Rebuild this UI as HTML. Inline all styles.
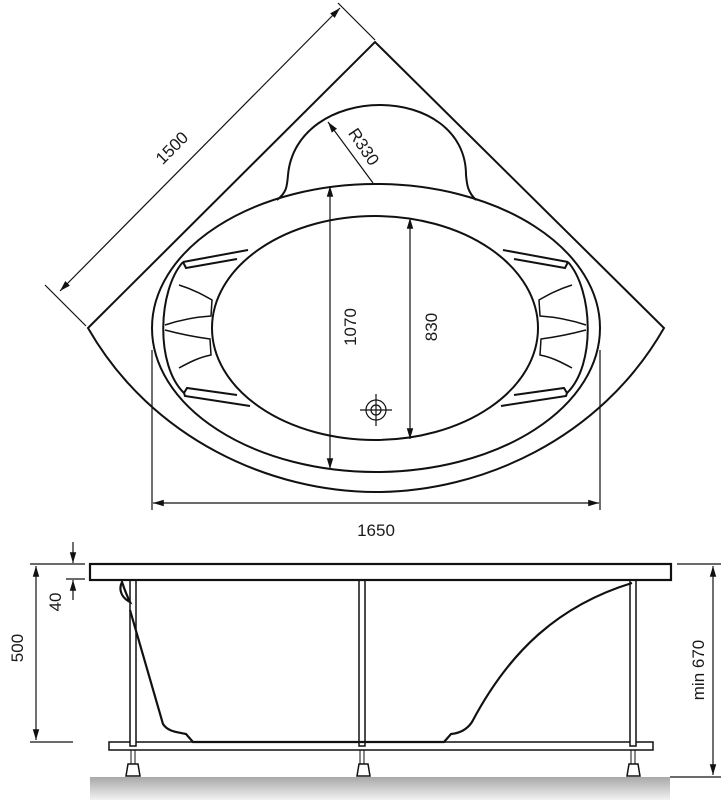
<!DOCTYPE html>
<html><head><meta charset="utf-8"><style>
html,body{margin:0;padding:0;background:#fff;}
svg{display:block;}
text{font-family:"Liberation Sans",sans-serif;font-size:17px;fill:#1a1a1a;}
</style></head><body>
<svg width="721" height="800" viewBox="0 0 721 800" xmlns="http://www.w3.org/2000/svg">
<defs>
<marker id="a" viewBox="0 0 10 10" refX="10" refY="5" markerWidth="9" markerHeight="9" orient="auto-start-reverse"><path d="M0,2 L10,5 L0,8 z" fill="#111"/></marker>
<linearGradient id="fl" x1="0" y1="0" x2="0" y2="1"><stop offset="0" stop-color="#a8a8a8"/><stop offset="1" stop-color="#f2f2f2"/></linearGradient>
</defs>
<g fill="none" stroke="#111" stroke-width="2">
<path d="M88,328 L375,42 L664,328 C600,440 480,492 376,492 C272,492 152,440 88,328 Z"/>
<!-- headrest -->
<path d="M277,200 C287,192 287,186 288,175 C292,130 335,105 380,105 C425,105 466,130 466,175 C467,186 468,192 476,200"/>
<ellipse cx="376" cy="328" rx="224" ry="144"/>
<ellipse cx="375" cy="328" rx="163" ry="112"/>
<path d="M183,262 C158,290 155,365 184,393"/>
<path d="M568,262 C593,290 596,365 567,393"/>
<path d="M183,262 L248,250 M183,262 L186,268 L237,259 M184,393 L187,388 L237,395 M184,393 L185,396 L250,406"/>
<path d="M568,262 L503,250 M568,262 L565,268 L514,259 M567,393 L564,388 L514,395 M567,393 L566,396 L501,406"/>
<path d="M179,285 C195,290 205,296 212,300 L211,316 C195,317 180,320 165,325 M165,330 C180,334 195,337 210,339 L211,355 C200,357 190,362 179,368" stroke-width="1.5"/>
<path d="M572,285 C556,290 546,296 539,300 L540,316 C556,317 571,320 586,325 M586,330 C571,334 556,337 541,339 L540,355 C551,357 561,362 572,368" stroke-width="1.5"/>
</g>
<g stroke="#111" stroke-width="1.2" fill="none">
<line x1="86" y1="326" x2="45" y2="285"/>
<line x1="375" y1="40" x2="338" y2="3"/>
<line x1="60" y1="291" x2="340" y2="8" marker-start="url(#a)" marker-end="url(#a)"/>
<line x1="152" y1="350" x2="152" y2="510"/>
<line x1="600" y1="350" x2="600" y2="510"/>
<line x1="153" y1="503" x2="599" y2="503" marker-start="url(#a)" marker-end="url(#a)"/>
<line x1="330" y1="186" x2="330" y2="469" marker-start="url(#a)" marker-end="url(#a)"/>
<line x1="410" y1="218" x2="410" y2="439" marker-start="url(#a)" marker-end="url(#a)"/>
<line x1="373" y1="183" x2="328" y2="122" marker-end="url(#a)"/>
<circle cx="376" cy="410" r="10"/><circle cx="376" cy="410" r="5"/>
<line x1="360" y1="410" x2="392" y2="410"/><line x1="376" y1="394" x2="376" y2="426"/>
</g>
<text transform="translate(176,152) rotate(-45)" text-anchor="middle">1500</text>
<text x="376" y="536" text-anchor="middle">1650</text>
<text transform="translate(356,327) rotate(-90)" text-anchor="middle">1070</text>
<text transform="translate(437,327) rotate(-90)" text-anchor="middle">830</text>
<text transform="translate(359,150) rotate(56)" text-anchor="middle">R330</text>
<rect x="90" y="777" width="580" height="23" fill="url(#fl)"/>
<g fill="none" stroke="#111" stroke-width="1.5">
<rect x="109" y="742" width="544" height="8" fill="#fff"/>
<rect x="130" y="580" width="6" height="166" fill="#fff"/>
<rect x="359" y="580" width="6" height="166" fill="#fff"/>
<rect x="630" y="580" width="6" height="166" fill="#fff"/>
<path d="M128,764 L138,764 L140,776 L126,776 Z M359,764 L368,764 L370,776 L357,776 Z M629,764 L638,764 L640,776 L627,776 Z" fill="#fff"/>
<path d="M131,750 v14 M135,750 v14 M360,750 v14 M364,750 v14 M631,750 v14 M635,750 v14" stroke-width="1"/>
</g>
<g fill="none" stroke="#111" stroke-width="2.2">
<rect x="90" y="564" width="581" height="16" fill="#fff"/>
<path d="M122,582 C118,590 122,598 130,602 C126,594 124,588 122,582 Z M130,610 L163,724 C168,732 178,732 186,734 L193,742 L444,742 L451,734 C462,733 468,728 472,722 C510,650 560,605 632,583"/>
</g>
<g stroke="#111" stroke-width="1.2" fill="none">
<line x1="30" y1="564" x2="85" y2="564"/>
<line x1="30" y1="742" x2="73" y2="742"/>
<line x1="36" y1="566" x2="36" y2="740" marker-start="url(#a)" marker-end="url(#a)"/>
<line x1="66" y1="579" x2="85" y2="579"/>
<line x1="73" y1="542" x2="73" y2="563" marker-end="url(#a)"/>
<line x1="73" y1="600" x2="73" y2="580" marker-end="url(#a)"/>
<line x1="677" y1="564" x2="721" y2="564"/>
<line x1="670" y1="777" x2="721" y2="777"/>
<line x1="713" y1="566" x2="713" y2="775" marker-start="url(#a)" marker-end="url(#a)"/>
</g>
<text transform="translate(61,602) rotate(-90)" text-anchor="middle">40</text>
<text transform="translate(23,648) rotate(-90)" text-anchor="middle">500</text>
<text transform="translate(704,670) rotate(-90)" text-anchor="middle">min 670</text>
</svg>
</body></html>
